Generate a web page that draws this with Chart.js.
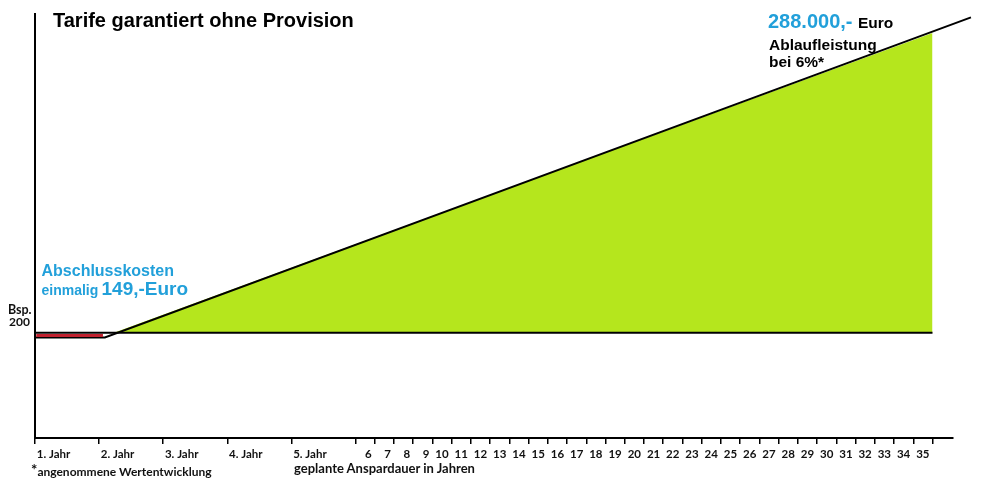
<!DOCTYPE html>
<html><head><meta charset="utf-8">
<script src="https://cdn.jsdelivr.net/npm/chart.js@4.4.1/dist/chart.umd.min.js"></script>
<style>
html,body{margin:0;padding:0;background:#fff;}
#wrap{position:relative;width:1001px;height:492px;overflow:hidden;background:#fff;}
#c{position:absolute;left:0;top:0;}
.t{position:absolute;white-space:nowrap;line-height:1;font-weight:bold;}
.a{font-family:"Liberation Sans",Arial,sans-serif;color:#000;}
.l{font-family:Lato,"Open Sans",sans-serif;color:#111;}
.blue{color:#22a0da;}
</style></head><body>
<div id="wrap">
<canvas id="c" width="1001" height="492" style="width:1001px;height:492px"></canvas>
<div class="t a" style="left:53px;top:9.8px;font-size:20px;">Tarife garantiert ohne Provision</div>
<div class="t a blue" style="left:768px;top:11.4px;font-size:20px;">288.000,-</div>
<div class="t a" style="left:858px;top:15.2px;font-size:15.5px;">Euro</div>
<div class="t a" style="left:769px;top:36.9px;font-size:15.5px;">Ablaufleistung</div>
<div class="t a" style="left:769px;top:53.6px;font-size:15.5px;">bei 6%*</div>
<div class="t a blue" style="left:41.5px;top:263.2px;font-size:16px;">Abschlusskosten</div>
<div class="t a blue" style="left:41.5px;top:283.1px;font-size:14px;">einmalig</div>
<div class="t a blue" style="left:101.5px;top:278.9px;font-size:19px;">149,-Euro</div>
<div class="t l" style="left:8px;top:304px;font-size:12.5px;">Bsp.</div>
<div class="t l" style="left:9px;top:316.1px;font-size:12px;">200</div>
<div class="t l" style="left:31px;top:462.5px;font-size:12px;"><span style="position:relative;top:-1px;font-size:15px;">*</span>angenommene Wertentwicklung</div>
<div class="t l" style="left:294px;top:462px;font-size:13px;">geplante Anspardauer in Jahren</div>
</div>
<script>
// categories (years) and their end positions on the schematic time axis
const yearLabels = ['1. Jahr','2. Jahr','3. Jahr','4. Jahr','5. Jahr','6','7','8','9','10','11','12','13','14','15','16','17','18','19','20','21','22','23','24','25','26','27','28','29','30','31','32','33','34','35'];
const yearEnd = [10,20,30,40,50,53,56,59,62,65,68,71,74,77,80,83,86,89,92,95,98,101,104,107,110,113,116,119,122,125,128,131,134,137,140];

// schematic value levels
const baseX = [0, 140];            // reference level "Bsp. 200"
const baseY = [24.8, 24.8];
const costBandX = [0.2, 10.6];     // one-off costs 149,- Euro
const costBandY = [24.2, 24.2];
const growthX = [0, 10.9, 146];    // growth line (after costs)
const growthY = [23.7, 23.7, 99.2];
const areaX = [12.3, 140];         // gain area up to 288.000,- Euro
const areaY = [24.8, 95.5];

const pts = (xs, ys) => xs.map((x, i) => ({x, y: ys[i]}));
const yearStart = [0].concat(yearEnd.slice(0, -1));
const tickPos = [0].concat(yearEnd);
const labelPos = yearLabels.map((l, i) => i < 5 ? yearStart[i] + 5.5 : yearEnd[i] - 0.47);

const X_MAX = 143.2;
new Chart(document.getElementById('c'), {
  type: 'line',
  data: { datasets: [
    { data: pts(areaX, areaY), fill: { value: baseY[0] }, backgroundColor: '#b5e61d', borderWidth: 0, pointRadius: 0, order: 4 },
    { data: pts(baseX, baseY), borderColor: '#000', borderWidth: 2, pointRadius: 0, fill: false, order: 3 },
    { data: pts(growthX, growthY), borderColor: '#000', borderWidth: 2, pointRadius: 0, fill: false, clip: false, order: 2 },
    { data: pts(costBandX, costBandY), borderColor: '#c0202e', borderWidth: 3, pointRadius: 0, fill: false, order: 1 }
  ]},
  options: {
    responsive: false, animation: false, events: [],
    layout: { padding: { left: 35, right: 48, top: 14, bottom: 22 } },
    plugins: { legend: { display: false }, tooltip: { enabled: false } },
    scales: {
      x: { type: 'linear', position: 'bottom', min: 0, max: X_MAX,
        border: { display: true, color: '#000', width: 2 },
        grid: { display: true, drawOnChartArea: false, drawTicks: true, tickLength: 6, color: '#000', lineWidth: 1.5 },
        ticks: { display: false },
        afterBuildTicks: s => { s.ticks = tickPos.map(v => ({ value: v })); },
        afterFit: s => { s.height = 6; } },
      x2: { type: 'linear', position: 'bottom', min: 0, max: X_MAX,
        border: { display: false }, grid: { display: false },
        ticks: { display: true, align: 'end', autoSkip: false, maxRotation: 0, minRotation: 0, padding: -5,
          color: '#111', font: { family: 'Lato', weight: 'bold', size: 11.5 },
          callback: (v, i) => yearLabels[i] },
        afterBuildTicks: s => { s.ticks = labelPos.map(v => ({ value: v })); },
        afterFit: s => { s.height = 26; } },
      y: { type: 'linear', min: 0, max: 100,
        border: { display: true, color: '#000', width: 2 },
        grid: { display: false }, ticks: { display: false },
        afterFit: s => { s.width = 0; } }
    }
  }
});
</script>
</body></html>
